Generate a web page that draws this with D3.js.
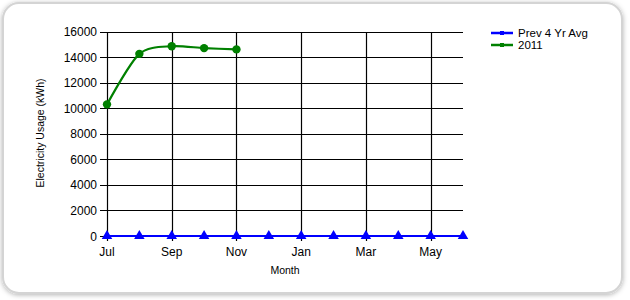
<!DOCTYPE html>
<html><head><meta charset="utf-8">
<script src="https://cdn.jsdelivr.net/npm/d3@7"></script>
<style>body{margin:0;background:#fff}svg{display:block}text{font-family:"Liberation Sans",Arial,sans-serif}</style>
</head><body><svg id="c" width="630" height="300"></svg>
<script>
const months = ["Jul","Aug","Sep","Oct","Nov","Dec","Jan","Feb","Mar","Apr","May","Jun"];
const labeledMonths = ["Jul","Sep","Nov","Jan","Mar","May"];
const prevAvg = [0,0,0,0,0,0,0,0,0,0,0,0];
const y2011 = [10300,14250,14850,14700,14600];
const yTicks = [0,2000,4000,6000,8000,10000,12000,14000,16000];
const seriesNames = ["Prev 4 Yr Avg","2011"];

const svg = d3.select("#c");
// frame
const defs = svg.append("defs");
const f = defs.append("filter").attr("id","sh").attr("x","-5%").attr("y","-5%").attr("width","110%").attr("height","110%");
f.append("feGaussianBlur").attr("in","SourceAlpha").attr("stdDeviation",2.5);
f.append("feOffset").attr("dx",0).attr("dy",1).attr("result","b");
f.append("feFlood").attr("flood-color","#000").attr("flood-opacity",0.3);
f.append("feComposite").attr("in2","b").attr("operator","in");
const m = f.append("feMerge"); m.append("feMergeNode"); m.append("feMergeNode").attr("in","SourceGraphic");
svg.append("rect").attr("x",3).attr("y",3).attr("width",619).attr("height",290).attr("rx",16)
  .attr("fill","#fff").attr("stroke","#d4d4d4").attr("stroke-width",2).attr("filter","url(#sh)");

const x = d3.scalePoint().domain(months).range([107,463]);
const y = d3.scaleLinear().domain([0,16000]).range([236,31.5]);

const g = svg.append("g");
g.selectAll(".hg").data(yTicks).join("line")
  .attr("x1",100).attr("x2",463).attr("y1",d=>Math.round(y(d))+0.5).attr("y2",d=>Math.round(y(d))+0.5)
  .attr("stroke","#000").attr("stroke-width",1.2);
g.selectAll(".vg").data(labeledMonths).join("line")
  .attr("x1",d=>Math.round(x(d))+0.5).attr("x2",d=>Math.round(x(d))+0.5).attr("y1",Math.round(y(16000))+0.5).attr("y2",241)
  .attr("stroke","#000").attr("stroke-width",1.2);
g.selectAll(".yl").data(yTicks).join("text")
  .attr("x",97).attr("y",d=>y(d)+4.5).attr("text-anchor","end").attr("font-size",12).attr("fill","#000")
  .text(d=>d);
g.selectAll(".xl").data(labeledMonths).join("text")
  .attr("x",d=>x(d)).attr("y",256).attr("text-anchor","middle").attr("font-size",12).attr("fill","#000")
  .text(d=>d);
svg.append("text").attr("x",285).attr("y",274).attr("text-anchor","middle").attr("font-size",10.5).text("Month");
svg.append("text").attr("transform","translate(44,133) rotate(-90)").attr("text-anchor","middle").attr("font-size",10.5).text("Electricity Usage (kWh)");

const line = d3.line().x((d,i)=>x(months[i])).y(d=>y(d)).curve(d3.curveCardinal.tension(0.2));
svg.append("path").attr("d",line(y2011)).attr("fill","none").attr("stroke","#008000").attr("stroke-width",2.2);
svg.selectAll(".gp").data(y2011).join("circle").attr("cx",(d,i)=>x(months[i])).attr("cy",d=>y(d)).attr("r",4.2).attr("fill","#008000");

const line2 = d3.line().x((d,i)=>x(months[i])).y(d=>y(d));
svg.append("path").attr("d",line2(prevAvg)).attr("fill","none").attr("stroke","#0000ff").attr("stroke-width",2);
const tri = d3.symbol().type(d3.symbolTriangle).size(48);
svg.selectAll(".bp").data(prevAvg).join("path").attr("d",tri)
  .attr("transform",(d,i)=>`translate(${x(months[i])},${y(d)})`).attr("fill","#0000ff");

const colors = ["#0000ff","#008000"];
const lg = svg.append("g");
seriesNames.forEach((n,i)=>{
  const yy = 33 + i*12;
  lg.append("line").attr("x1",491).attr("x2",513).attr("y1",yy).attr("y2",yy).attr("stroke",colors[i]).attr("stroke-width",2.5);
  lg.append("rect").attr("x",500).attr("y",yy-2).attr("width",4).attr("height",4).attr("fill",colors[i]);
  lg.append("text").attr("x",518).attr("y",yy+4).attr("font-size",11.5).attr("fill","#000").text(n);
});
</script></body></html>
